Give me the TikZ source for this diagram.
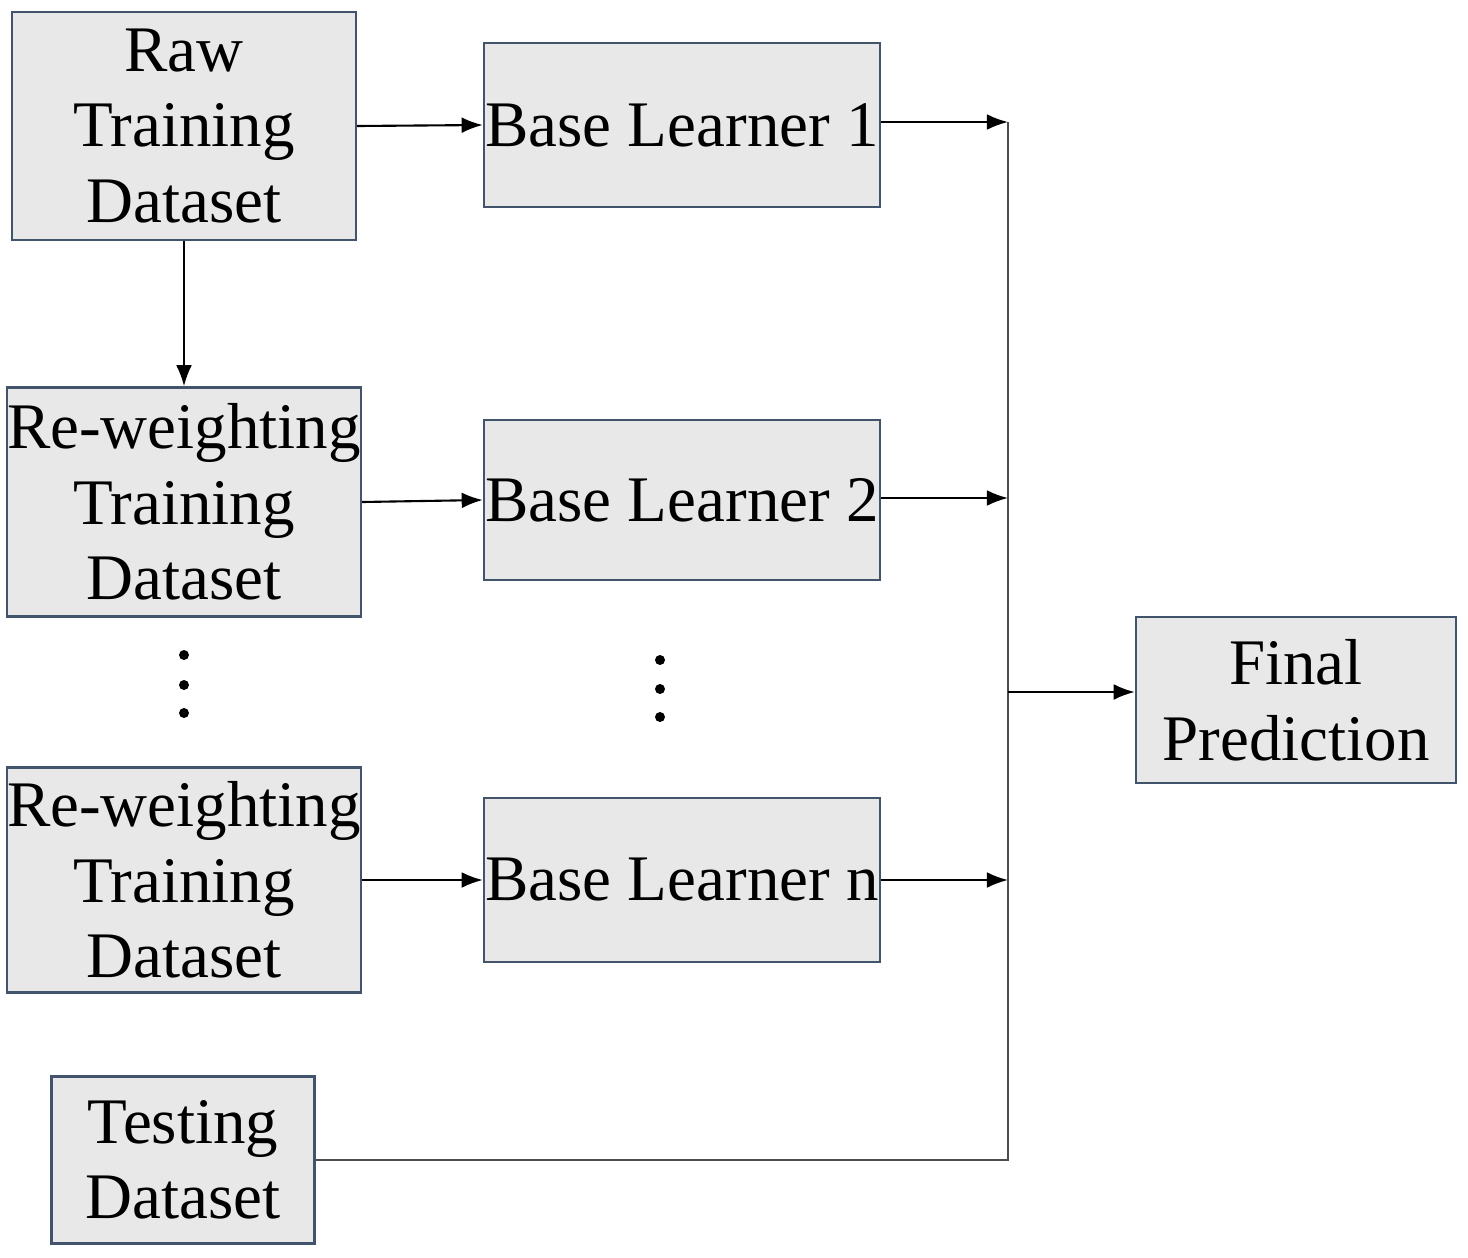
\documentclass[tikz,border=0pt]{standalone}
\usepackage{fontspec}
\setmainfont{Liberation Serif}
\usetikzlibrary{arrows.meta}
\definecolor{bfill}{HTML}{E8E8E8}
\definecolor{bdraw}{HTML}{41546C}
\begin{document}
\begin{tikzpicture}[x=0.02cm,y=-0.02cm,
  box/.style={draw=bdraw,fill=bfill,line width=1.4pt,align=center,inner sep=0pt,
    font=\fontsize{37}{43}\selectfont},
  ar/.style={-{Latex[length=12pt,width=9pt]},line width=1.2pt},
  ln/.style={line width=1.2pt,draw=black!70}]
\useasboundingbox (0,0) rectangle (1468,1258);
\node[box,minimum width=344*0.02cm,minimum height=228*0.02cm] (raw) at (184,126) {Raw\\Training\\Dataset};
\node[box,minimum width=344*0.02cm,minimum height=229*0.02cm] (re1) at (184,502) {Re-weighting\\Training\\Dataset};
\node[box,minimum width=344*0.02cm,minimum height=225*0.02cm] (re2) at (184,880) {Re-weighting\\Training\\Dataset};
\node[box,minimum width=263*0.02cm,minimum height=167*0.02cm] (test) at (183,1160) {Testing\\Dataset};
\node[box,minimum width=396*0.02cm,minimum height=164*0.02cm] (bl1) at (682,125) {Base Learner 1};
\node[box,minimum width=396*0.02cm,minimum height=160*0.02cm] (bl2) at (682,500) {Base Learner 2};
\node[box,minimum width=396*0.02cm,minimum height=164*0.02cm] (bln) at (682,880) {Base Learner n};
\node[box,minimum width=320*0.02cm,minimum height=166*0.02cm] (fin) at (1296,700) {Final\\Prediction};
\coordinate (j1) at (1008,122);
\coordinate (j2) at (1008,498);
\coordinate (jn) at (1008,880);
\coordinate (jf) at (1008,692);
\coordinate (jt) at (1008,1160);
\draw[ar] (raw) -- (re1);
\draw[ar] (raw.east) -- (bl1.west);
\draw[ar] (re1.east) -- (bl2.west);
\draw[ar] (re2.east) -- (bln.west);
\draw[ar] (bl1.east|-j1) -- (j1);
\draw[ar] (bl2.east|-j2) -- (j2);
\draw[ar] (bln.east) -- (jn);
\draw[ln] (j1) -- (jt) -- (test.east|-jt);
\draw[ar] (jf) -- (fin.west|-jf);
\foreach \y in {655,685,713} \fill (184,\y) circle (5);
\foreach \y in {660,689,717} \fill (660,\y) circle (5);
\end{tikzpicture}
\end{document}
